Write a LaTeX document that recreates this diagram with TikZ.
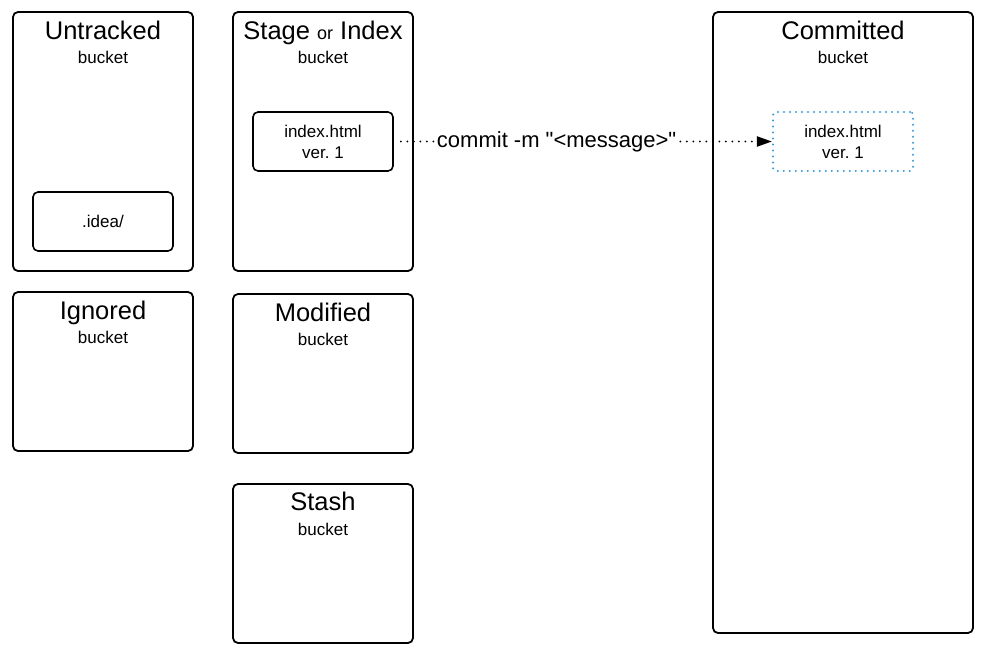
\documentclass[tikz,border=0pt]{standalone}
\usepackage{fontspec}
\setmainfont{Liberation Sans}
% same face without TeX ligature mapping, so " stays a straight quote
\newfontfamily\rawsans{Liberation Sans}
\usetikzlibrary{arrows.meta}
\frenchspacing
\begin{document}
\begin{tikzpicture}[x=1pt,y=-1pt,
  bucket/.style={draw=black,line width=1.8pt,rounded corners=5pt},
  filebox/.style={draw=black,line width=1.6pt,rounded corners=5pt,align=center,
    font=\fontsize{17}{21}\selectfont,minimum width=140pt,minimum height=59pt,inner sep=0pt},
  title/.style={font=\fontsize{25.5}{28}\selectfont,inner sep=0pt,anchor=base},
  sub/.style={font=\fontsize{17}{20}\selectfont,inner sep=0pt,anchor=base}]
\useasboundingbox (0,0) rectangle (997,656);

% buckets
\draw[bucket] (13,12) rectangle (193,271);
\node[title] (untr) at (103,39) {Untracked};
\node[sub] (untrb) at (103,63) {bucket};

\draw[bucket] (13,292) rectangle (193,451);
\node[title] (ign) at (103,319) {Ignored};
\node[sub] (ignb) at (103,343) {bucket};

\draw[bucket] (233,12) rectangle (413,271);
\node[title] (stage) at (323,39) {Stage {\fontsize{18}{20}\selectfont or} Index};
\node[sub] (stageb) at (323,63) {bucket};

\draw[bucket] (233,294) rectangle (413,453);
\node[title] (mod) at (323,321) {Modified};
\node[sub] (modb) at (323,345) {bucket};

\draw[bucket] (233,484) rectangle (413,643);
\node[title] (stash) at (323,510) {Stash};
\node[sub] (stashb) at (323,535) {bucket};

\draw[bucket] (713,12) rectangle (973,633);
\node[title] (comm) at (843,39) {Committed};
\node[sub] (commb) at (843,63) {bucket};

% files
\node[filebox] (idea) at (103,221.5) {.idea/};
\node[filebox] (staged) at (323,141.5) {index.html\\ver. 1};
\node[filebox,draw={rgb,255:red,60;green,155;blue,215},line width=2.2pt,
      dash pattern=on 0pt off 6pt,line cap=round,rounded corners=3pt]
      (committed) at (843,141.5) {index.html\\ver. 1};

% commit arrow
\draw[line width=2.1pt,dash pattern=on 0pt off 6.5pt,line cap=round,
      -{Triangle[length=15pt,width=10pt,line cap=butt]}]
  ([xshift=7pt]staged.east) -- (committed.west)
  node[pos=0.42,fill=white,inner sep=0.5pt,font=\rawsans\fontsize{22}{24}\selectfont] (cmd)
  {commit -m "<message>"};
\end{tikzpicture}
\end{document}
